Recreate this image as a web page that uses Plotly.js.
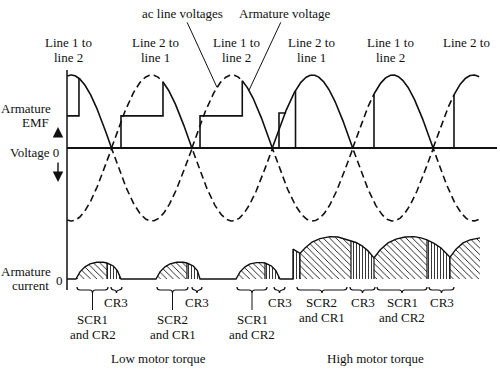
<!DOCTYPE html>
<html><head><meta charset="utf-8">
<script src="https://cdn.plot.ly/plotly-3.0.1.min.js"></script>
<style>html,body{margin:0;padding:0;background:#fff}#c{width:500px;height:376px}</style>
</head><body><div id="c"></div>
<script>
// ===== DATA (angle in electrical degrees; voltage in units of line-voltage peak; current in units of high-torque peak) =====
const thetaStart = 80.4, thetaEnd = 1003;
const linePeak = 1.0;
// positive half-cycles of the line voltage drawn solid / dashed
const solidFrom  = [80.4, 295.3, 472.8, 540, 767.7, 946.8];
const solidTo    = [180, 360, 540, 720, 900, 1003];
const dashedFrom = [180, 360, 720, 900];
const dashedTo   = [295.3, 472.8, 767.7, 946.8];
// armature voltage held at armature EMF, then jump to the line voltage
const emfFrom  = [80.4, 201.3, 378.2, 555.0];
const emfTo    = [107.2, 295.3, 472.8, 569.3];
const emfLevel = [0.44, 0.44, 0.44, 0.48];
// SCR firing angles in high-torque operation (voltage jumps from 0 to line voltage)
const fireAngles = [592.0, 767.7, 946.8];

// armature current waveform
const curTheta = [80.4,
  100.5,109.5,120.7,131.9,146.8,161.7,169.9,184.1,193.1,201.3,
  279.6,288.6,299.8,311.0,325.9,340.8,349.0,363.2,372.2,378.2,
  458.8,467.8,479.0,490.2,505.1,517.0,523.7,538.0,548.0,557.3,
  586.4,586.4,602.1,613.3,629.0,646.8,669.2,687.1,702.8,716.2,727.4,740.9,754.3,767.7,
  781.2,799.1,817.0,837.2,857.3,873.0,886.4,902.1,917.8,937.9,951.3,967.0,982.7,1005.0];
const curAmp = [0,
  0,0.17,0.29,0.36,0.40,0.40,0.38,0.31,0.20,0,
  0,0.17,0.29,0.36,0.40,0.40,0.38,0.31,0.20,0,
  0,0.17,0.29,0.36,0.39,0.39,0.38,0.31,0.20,0,
  0,0.71,0.61,0.74,0.88,0.96,1.01,1.00,0.95,0.90,0.87,0.79,0.67,0.50,
  0.69,0.86,0.95,1.00,1.01,0.98,0.93,0.85,0.74,0.52,0.71,0.86,0.93,0.98];
// conduction intervals: SCR + diode (diagonal hatch) and freewheeling CR3 (vertical hatch)
const scrFrom = [100.5, 279.6, 458.8, 602.1, 767.7, 937.9];
const scrTo   = [169.9, 349.0, 523.7, 716.2, 886.4, 1005.0];
const cr3From = [169.9, 349.0, 523.7, 586.4, 716.2, 886.4];
const cr3To   = [201.3, 378.2, 557.3, 602.1, 767.7, 937.9];

// brackets under the current waveform
const bracketFrom = [102.8, 178.9, 281.9, 360.2, 461.0, 543.9, 595.3, 714.0, 774.5, 890.9];
const bracketTo   = [172.2, 203.5, 351.3, 382.6, 528.2, 568.5, 707.2, 770.0, 886.4, 946.8];
const bracketTop  = ['SCR1','CR3','SCR2','CR3','SCR1','CR3','SCR2','CR3','SCR1','CR3'];
const bracketBot  = ['and CR2','','and CR1','','and CR2','','and CR1','','and CR2',''];
const bracketStem = [true,false,true,false,true,false,false,false,false,false];

// line labels above each half-cycle
const lineLabelTheta = [84.8, 279.6, 458.8, 626.7, 803.6, 973.7];
const lineLabelTop = ['Line 1 to','Line 2 to','Line 1 to','Line 2 to','Line 1 to','Line 2 to'];
const lineLabelBot = ['line 2','line 1','line 2','line 1','line 2',''];

// ===== GEOMETRY =====
const PX0 = 67, PX1 = 497, PY0 = 70, PY1 = 290;
const TH0 = 80.4, TH1 = 1043.1;
const degPerPx = (TH1 - TH0) / (PX1 - PX0);
const px2x = px => (px - PX0) / (PX1 - PX0);
const py2y = py => (PY1 - py) / (PY1 - PY0);
const FONT = {family: "'Liberation Serif', 'Times New Roman', serif", size: 13, color: '#111'};

function lineV(th){ return linePeak * Math.abs(Math.sin(th * Math.PI / 180)); }
function sampleSpans(from, to, sign){
  const xs = [], ys = [];
  for (let k = 0; k < from.length; k++){
    const a = from[k], b = to[k];
    for (let t = a; t < b; t += 1){ xs.push(t); ys.push(sign * lineV(t)); }
    xs.push(b); ys.push(sign * lineV(b));
    xs.push(null); ys.push(null);
  }
  return {x: xs, y: ys};
}

const traces = [];
const LW = 1.6;
const neg = sampleSpans([thetaStart], [thetaEnd], -1);
traces.push({x: neg.x, y: neg.y, mode: 'lines', line: {color: '#111', width: LW, dash: '7px,4px'}, hoverinfo: 'skip'});
const posD = sampleSpans(dashedFrom, dashedTo, 1);
traces.push({x: posD.x, y: posD.y, mode: 'lines', line: {color: '#111', width: LW, dash: '7px,4px'}, hoverinfo: 'skip'});
const posS = sampleSpans(solidFrom, solidTo, 1);
traces.push({x: posS.x, y: posS.y, mode: 'lines', line: {color: '#111', width: LW}, hoverinfo: 'skip'});

// armature voltage steps
const sx = [], sy = [];
for (let k = 0; k < emfFrom.length; k++){
  const a = emfFrom[k], b = emfTo[k], E = emfLevel[k];
  if (a > thetaStart){ sx.push(a); sy.push(0); }
  sx.push(a, b, b, null); sy.push(E, E, lineV(b), null);
}
for (const f of fireAngles){ sx.push(f, f, null); sy.push(0, lineV(f), null); }
traces.push({x: sx, y: sy, mode: 'lines', line: {color: '#111', width: LW}, hoverinfo: 'skip'});

// current hatched regions
function region(a, b){
  const xs = [], ys = [];
  for (let i = 0; i < curTheta.length; i++){
    if (curTheta[i] >= a && curTheta[i] <= b){ xs.push(curTheta[i]); ys.push(curAmp[i]); }
  }
  return {x: xs, y: ys};
}
function addHatch(from, to, shape, size, sol){
  for (let k = 0; k < from.length; k++){
    const r = region(from[k], to[k]);
    traces.push({x: r.x, y: r.y, xaxis: 'x', yaxis: 'y2', mode: 'lines', line: {width: 0, color: '#111'},
      fill: 'tozeroy', fillcolor: '#fff',
      fillpattern: {shape: shape, size: size, solidity: sol, fgcolor: '#111', bgcolor: '#fff'}, hoverinfo: 'skip'});
  }
}
addHatch(scrFrom, scrTo, '\\', 4.5, 0.2);
addHatch(cr3From, cr3To, '|', 3, 0.28);
const bx = [], by = [];
const bounds = scrTo.slice(0, -1).concat(cr3To);
for (const b of bounds){
  for (let i = 0; i < curTheta.length; i++){
    if (curTheta[i] === b && curAmp[i] > 0){ bx.push(b, b, null); by.push(0, curAmp[i], null); }
  }
}
traces.push({x: bx, y: by, xaxis: 'x', yaxis: 'y2', mode: 'lines', line: {color: '#111', width: 1.2}, hoverinfo: 'skip'});
traces.push({x: curTheta, y: curAmp, xaxis: 'x', yaxis: 'y2', mode: 'lines', line: {color: '#111', width: 1.4}, hoverinfo: 'skip'});

// ===== SHAPES =====
const shapes = [];
shapes.push({type: 'line', xref: 'paper', yref: 'paper', x0: 0, x1: 0, y0: 0, y1: 1, line: {color: '#111', width: 1.5}});
const d = 3 * degPerPx;
for (let k = 0; k < bracketFrom.length; k++){
  const a = bracketFrom[k], b = bracketTo[k], m = (a + b) / 2;
  const yE = py2y(287), yF = py2y(290), yT = py2y(293);
  const p = `M ${a},${yE} Q ${a},${yF} ${a + d},${yF} L ${m - d},${yF} Q ${m},${yF} ${m},${yT} Q ${m},${yF} ${m + d},${yF} L ${b - d},${yF} Q ${b},${yF} ${b},${yE}`;
  shapes.push({type: 'path', xref: 'x', yref: 'paper', path: p, line: {color: '#111', width: 1.2}});
  if (bracketStem[k]){
    shapes.push({type: 'line', xref: 'x', yref: 'paper', x0: m, x1: m, y0: py2y(293), y1: py2y(310), line: {color: '#111', width: 1}});
  }
}

// ===== ANNOTATIONS =====
const ann = [];
function txt(t, px, py, xanchor){
  ann.push({text: t, xref: 'paper', yref: 'paper', x: px2x(px), y: py2y(py), xanchor: xanchor || 'center', yanchor: 'middle', showarrow: false, font: FONT});
}
function txtTh(t, th, py){
  ann.push({text: t, xref: 'x', yref: 'paper', x: th, y: py2y(py), xanchor: 'center', yanchor: 'middle', showarrow: false, font: FONT});
}
for (let k = 0; k < lineLabelTheta.length; k++){
  txtTh(lineLabelTop[k], lineLabelTheta[k], 43);
  if (lineLabelBot[k]) txtTh(lineLabelBot[k], lineLabelTheta[k], 57);
}
for (let k = 0; k < bracketFrom.length; k++){
  const m = (bracketFrom[k] + bracketTo[k]) / 2;
  const y1 = bracketStem[k] ? 319 : 302;
  txtTh(bracketTop[k], m, y1);
  if (bracketBot[k]) txtTh(bracketBot[k], m, y1 + 15);
}
txt('Armature', 53, 108, 'right');
txt('EMF', 51, 122, 'right');
txt('Voltage 0', 61, 152, 'right');
txt('Armature', 53, 271, 'right');
txt('current', 51, 285, 'right');
txt('0', 59, 280, 'center');
txt('Low motor torque', 158, 358);
txt('High motor torque', 375, 358);
const acTip = 416.2, avTip = 487.8;
ann.push({text: 'ac line voltages', xref: 'x', yref: 'y', x: acTip, y: lineV(acTip), ax: -34, ay: -74,
  showarrow: true, arrowhead: 0, arrowwidth: 1, arrowcolor: '#111', standoff: 0, font: FONT});
ann.push({text: 'Armature voltage', xref: 'x', yref: 'y', x: avTip, y: lineV(avTip), ax: 36, ay: -77,
  showarrow: true, arrowhead: 0, arrowwidth: 1, arrowcolor: '#111', standoff: 0, font: FONT});
ann.push({text: '', xref: 'paper', yref: 'paper', x: px2x(58), y: py2y(127), ax: 0, ay: 11, showarrow: true,
  arrowhead: 2, arrowsize: 1.5, arrowwidth: 1.4, arrowcolor: '#111'});
ann.push({text: '', xref: 'paper', yref: 'paper', x: px2x(58), y: py2y(182), ax: 0, ay: -21, showarrow: true,
  arrowhead: 2, arrowsize: 1.5, arrowwidth: 1.4, arrowcolor: '#111'});

const layout = {
  width: 500, height: 376, margin: {l: 67, r: 3, t: 70, b: 86},
  paper_bgcolor: '#fff', plot_bgcolor: 'rgba(0,0,0,0)', showlegend: false,
  xaxis: {range: [TH0, TH1], showgrid: false, zeroline: false, showline: false, showticklabels: false, ticks: '', anchor: 'y'},
  yaxis: {domain: [60/220, 1], range: [-82/73, 78/73], showgrid: false, zeroline: true, zerolinecolor: '#111', zerolinewidth: 1.5,
    showline: false, showticklabels: false, ticks: ''},
  yaxis2: {domain: [0, 60/220], range: [-11/42, 49/42], showgrid: false, zeroline: false, showline: false, showticklabels: false, ticks: '', anchor: 'x'},
  shapes: shapes, annotations: ann
};
Plotly.newPlot('c', traces, layout, {staticPlot: true, displayModeBar: false});
</script></body></html>
